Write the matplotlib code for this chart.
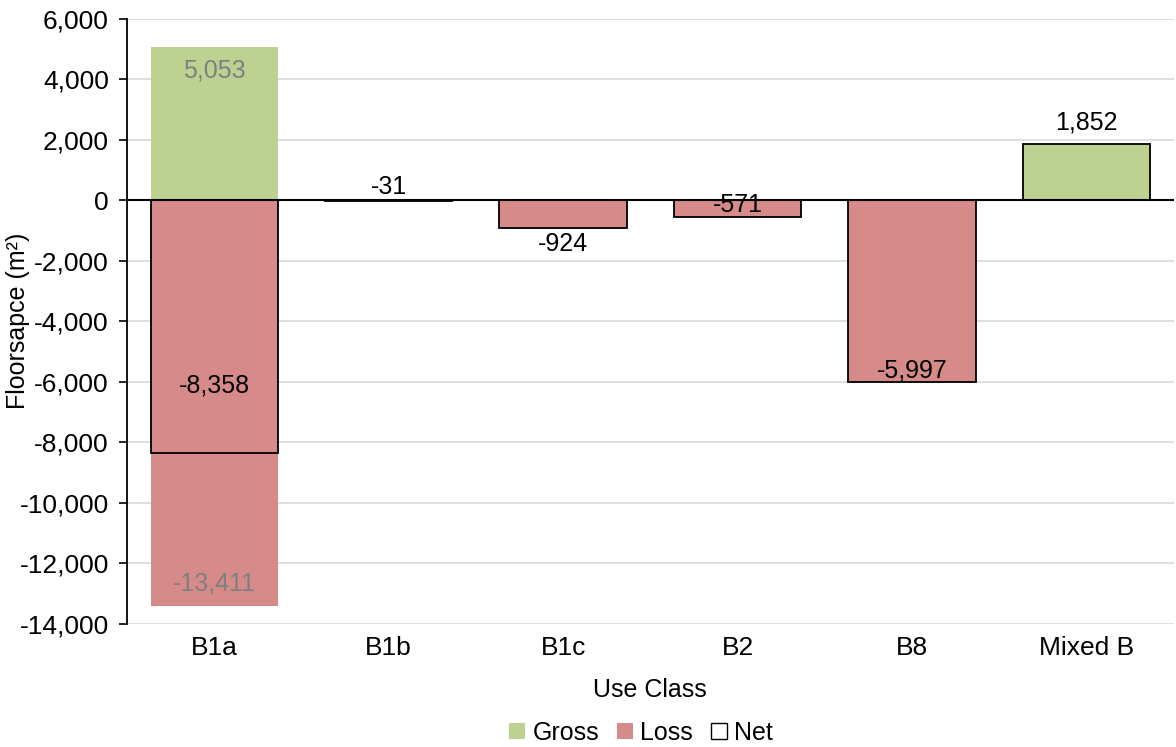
import numpy as np
import matplotlib.pyplot as plt
from matplotlib.patches import Patch
from matplotlib.ticker import FuncFormatter

plt.rcParams['font.family'] = ['Liberation Sans', 'DejaVu Sans']

classes = ['B1a', 'B1b', 'B1c', 'B2', 'B8', 'Mixed B']
gross = [5053, 0, 0, 0, 0, 1852]
loss = [-13411, -31, -924, -571, -5997, 0]
net = [-8358, -31, -924, -571, -5997, 1852]

# label heights, hand placed like the original sheet
net_label_y = [-6116, 430, -1455, -165, -5620, 2579]
gross_label_y = 4298
loss_label_y = -12662

green = '#bdd190'
red = '#d68a89'

fig = plt.figure(figsize=(11.76, 7.47), dpi=100)
ax = fig.add_axes([0.108, 0.165, 0.89, 0.81])

x = np.arange(len(classes))
w = 0.73
ax.bar(x, gross, w, color=green, zorder=2)
ax.bar(x, loss, w, color=red, zorder=2)
ax.bar(x, net, w, facecolor='none', edgecolor='black', linewidth=1.3, zorder=3)

ax.text(x[0], gross_label_y, f'{gross[0]:,}', ha='center', va='center',
        fontsize=18, color='#7f7f7f', zorder=4)
ax.text(x[0], loss_label_y, f'{loss[0]:,}', ha='center', va='center',
        fontsize=18, color='#7f7f7f', zorder=4)
for xi, v, ly in zip(x, net, net_label_y):
    ax.text(xi, ly, f'{v:,}', ha='center', va='center', fontsize=18,
            color='black', zorder=4)

ax.set_xlim(-0.5, len(classes) - 0.5)
ax.set_ylim(-14000, 6000)
ax.set_yticks(np.arange(-14000, 6001, 2000))
ax.yaxis.set_major_formatter(FuncFormatter(lambda v, p: f'{int(v):,}'))
ax.set_xticks(x)
ax.set_xticklabels(classes)
ax.tick_params(axis='x', length=0, pad=9, labelsize=19)
ax.tick_params(axis='y', length=6, width=1.2, labelsize=19, pad=7,
               direction='out')

ax.grid(axis='y', color='#d9d9d9', linewidth=1.2, zorder=0)
ax.set_axisbelow(True)
ax.axhline(0, color='black', linewidth=1.5, zorder=3)
for s in ['top', 'right', 'bottom']:
    ax.spines[s].set_visible(False)
ax.spines['left'].set_linewidth(1.3)

ax.set_ylabel('Floorsapce (m²)', fontsize=18)
ax.yaxis.label.set_va('center')
ax.yaxis.set_label_coords(-0.104, 0.5)
ax.set_xlabel('Use Class', fontsize=18)
ax.xaxis.label.set_va('center')
ax.xaxis.set_label_coords(0.5, -0.109)

handles = [Patch(facecolor=green, label='Gross'),
           Patch(facecolor=red, label='Loss'),
           Patch(facecolor='white', edgecolor='black', label='Net')]
fig.legend(handles=handles, loc='center', bbox_to_anchor=(0.545, 0.019),
           ncol=3, frameon=False, fontsize=18, handlelength=0.65,
           handleheight=0.65, handletextpad=0.3, columnspacing=0.7,
           borderpad=0)

fig.savefig('out.png', dpi=100)
